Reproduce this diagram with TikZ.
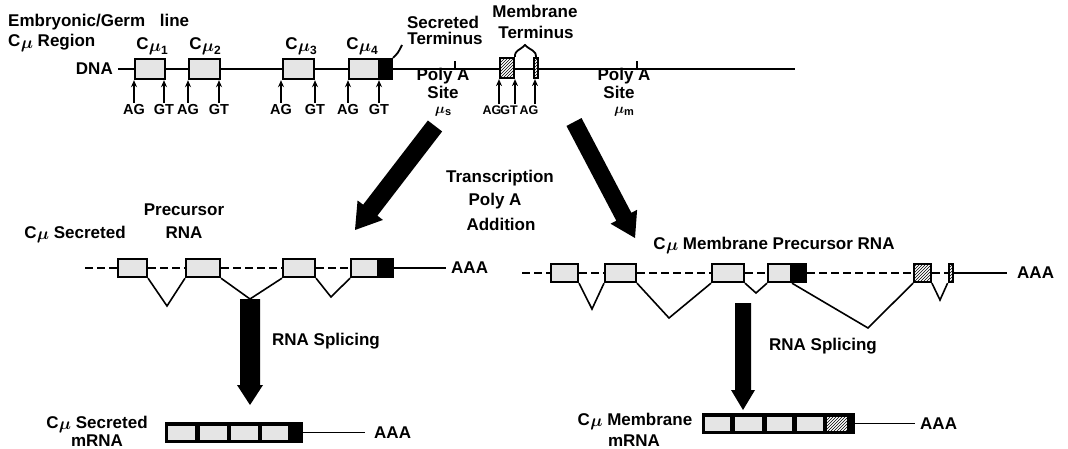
\documentclass[tikz,border=0pt]{standalone}
\usepackage{fontspec}
\setmainfont{Liberation Sans}
\usetikzlibrary{arrows.meta,patterns,calc}
\newcommand\fatarrow[5]{%
  \path ($(#2)!#5!(#1)$) coordinate (fac);
  \fill ($(#1)!#3!90:(#2)$) -- ($(fac)!#3!90:(#2)$) -- ($(fac)!#4!90:(#2)$) -- (#2)
     -- ($(fac)!#4!-90:(#2)$) -- ($(fac)!#3!-90:(#2)$) -- ($(#1)!#3!-90:(#2)$) -- cycle;}
\newcommand\bmu{{\boldmath$\mu$}}
\newcommand\Cmu{C\kern0.3pt\raisebox{-1.5pt}{\bmu}}
\newcommand\Cmusub[1]{C\kern0.3pt\raisebox{-2pt}{\bmu}\raisebox{-5pt}{\fontsize{12}{12}\selectfont #1}}
\newcommand\musub[1]{\bmu\raisebox{-2pt}{\fontsize{11}{11}\selectfont #1}}
\begin{document}
\begin{tikzpicture}[x=1pt,y=-1pt,
  lab/.style={font=\fontsize{17}{19}\selectfont\bfseries, inner sep=0pt, anchor=base},
  sm/.style={font=\fontsize{14.5}{16}\selectfont\bfseries, inner sep=0pt, anchor=base},
  tiny/.style={font=\fontsize{12.5}{14}\selectfont\bfseries, inner sep=0pt, anchor=base},
  mulab/.style={font=\fontsize{15}{16}\selectfont\bfseries, inner sep=0pt, anchor=base},
  exon/.style={draw, line width=2.4pt, fill=black!10, inner sep=0pt, minimum height=#1},
  exon/.default=20pt,
  term/.style={draw, line width=2.4pt, fill=black, inner sep=0pt, minimum height=#1},
  term/.default=20pt,
  memb/.style={draw, line width=2.2pt, fill=white, postaction={pattern=north east lines}, inner sep=0pt, minimum height=#1},
  memb/.default=20pt,
  dna/.style={line width=2pt},
  dashln/.style={line width=2.2pt, dash pattern=on 8pt off 4pt},
  rna/.style={line width=1.8pt},
  splice/.style={line width=1.6pt},
  smarr/.style={line width=1.6pt, -{Stealth[length=7pt,width=6pt]}},
  tick/.style={line width=1.8pt},
  inner/.style={fill=black!10, inner sep=0pt, minimum height=14pt},
  innerh/.style={fill=white, postaction={pattern=north east lines}, inner sep=0pt, minimum height=14pt},
  bar/.style={fill=black, inner sep=0pt, minimum height=21pt}
]
\useasboundingbox[fill=white] (0,0) rectangle (1068,449);

% ---------------- DNA ----------------
\node[lab, anchor=base west] (emb) at (8,27) {Embryonic/Germ\hspace{10pt} line};
\node[lab, anchor=base west] (reg) at (8,47) {\Cmu\ Region};
\node[lab, anchor=east] (dnal) at (113,69) {DNA};
\coordinate (dnaend) at (795,69);
\draw[dna] ([xshift=5pt]dnal.east) -- (dnaend);

\node[exon=20pt, minimum width=29.6pt] (d1) at (150,69) {};
\node[exon=20pt, minimum width=30.6pt] (d2) at (204.5,69) {};
\node[exon=20pt, minimum width=30.6pt] (d3) at (298.5,69) {};
\node[exon=20pt, minimum width=29.6pt] (d4) at (364,69) {};
\node[term=20pt, minimum width=10.6pt] (d4b) at (386.5,69) {};
\node[memb=20pt, minimum width=13.6pt] (m1) at (507,68) {};
\node[memb=20pt, minimum width=4.6pt] (m2) at (536,68) {};

\node[lab] (c1) at (152,50) {\Cmusub{1}};
\node[lab] (c2) at (205,50) {\Cmusub{2}};
\node[lab] (c3) at (301,50) {\Cmusub{3}};
\node[lab] (c4) at (362,50) {\Cmusub{4}};

% splice site labels and arrows
\node[sm] (ag1) at (134,115) {AG};
\node[sm] (gt1) at (164,115) {GT};
\node[sm] (ag2) at (188,115) {AG};
\node[sm] (gt2) at (219,115) {GT};
\node[sm] (ag3) at (281,115) {AG};
\node[sm] (gt3) at (315,115) {GT};
\node[sm] (ag4) at (348,115) {AG};
\node[sm] (gt4) at (379,115) {GT};
\node[tiny] (ag5) at (492,115) {AG};
\node[tiny] (gt5) at (509,115) {GT};
\node[tiny] (ag6) at (529,115) {AG};
\foreach \l/\b in {ag1/d1,gt1/d1,ag2/d2,gt2/d2,ag3/d3,gt3/d3,ag4/d4,gt4/d4b}
  \draw[smarr] ([yshift=2pt]\l.north) -- (\l.north |- \b.south);
\draw[smarr] ([xshift=7pt,yshift=2pt]ag5.north) -- ([xshift=7pt]ag5.north |- m1.south);
\draw[smarr] ([xshift=6pt,yshift=2pt]gt5.north) -- ([xshift=6pt]gt5.north |- m1.south);
\draw[smarr] ([xshift=6pt,yshift=2pt]ag6.north) -- ([xshift=6pt]ag6.north |- m2.south);

% termini
\node[lab] (sec1) at (443,29) {Secreted};
\node[lab] (sec2) at (445,45) {Terminus};
\draw[tick] (d4b.north east) .. controls (398,53) .. (402,45);
\node[lab] (mem1) at (535,18) {Membrane};
\node[lab] (mem2) at (536,39) {Terminus};
\coordinate (brtop) at (525,45);
\draw[tick] (m1.north east) .. controls ([yshift=7pt]m1.north east) and (519,51) .. (brtop)
   .. controls (531,51) and ([yshift=7pt]m2.north) .. (m2.north);

% poly A sites
\coordinate (pas) at (455,69);
\coordinate (pam) at (637,69);
\draw[tick] (pas) -- ++(0,-8);
\draw[tick] (pam) -- ++(0,-8);
\node[lab] (pa1) at (443,81) {Poly A};
\node[lab] (pa2) at (443,99) {Site};
\node[mulab] (pa3) at (443,114) {\musub{s}};
\node[lab] (pb1) at (624,81) {Poly A};
\node[lab] (pb2) at (619,99) {Site};
\node[mulab] (pb3) at (624,114) {\musub{m}};

% transcription arrows
\coordinate (la0) at (435,126);
\coordinate (la1) at (355,230);
\coordinate (ra0) at (574,122);
\coordinate (ra1) at (635,238);
\fatarrow{la0}{la1}{9pt}{16pt}{25pt}
\fatarrow{ra0}{ra1}{8.5pt}{15pt}{24pt}
\node[lab] (tr1) at (500,183) {Transcription};
\node[lab] (tr2) at (495,206) {Poly A};
\node[lab] (tr3) at (501,230) {Addition};

% ---------------- secreted precursor ----------------
\node[lab] (lsec) at (75,238) {\Cmu\ Secreted};
\node[lab] (lpre1) at (184,215) {Precursor};
\node[lab] (lpre2) at (184,238) {RNA};
\coordinate (lp0) at (85,268);
\coordinate (lpe) at (446,268);
\node[exon=18pt, minimum width=28.6pt] (p1) at (132.5,268) {};
\node[exon=18pt, minimum width=33.6pt] (p2) at (203,268) {};
\node[exon=18pt, minimum width=31.6pt] (p3) at (299,268) {};
\node[exon=18pt, minimum width=26.6pt] (p4) at (364.5,268) {};
\node[term=18pt, minimum width=12.6pt] (p4b) at (386.5,268) {};
\draw[dashln] (lp0) -- (p1.west) (p1.east) -- (p2.west) (p2.east) -- (p3.west) (p3.east) -- (p4.west);
\draw[rna] (p4b.east) -- (lpe);
\node[lab, anchor=west] (lAAA) at (451,268) {AAA};
\coordinate (lsj) at (250,299);
\draw[splice] (p1.south east) -- (167,306) -- (p2.south west);
\draw[splice] (p2.south east) -- (lsj) -- (p3.south west);
\draw[splice] (p3.south east) -- (331,297) -- (p4.south west);
\coordinate (lv1) at (250,405);
\fatarrow{lsj}{lv1}{10pt}{13pt}{20pt}
\node[lab] (lspl) at (326,345) {RNA Splicing};

% secreted mRNA
\node[lab] (lm1) at (97,428) {\Cmu\ Secreted};
\node[lab] (lm2) at (97,446) {mRNA};
\node[bar, minimum width=138pt] (lm) at (234,432.5) {};
\node[inner, minimum width=27pt] (lmi1) at (181.5,432.5) {};
\node[inner, minimum width=27pt] (lmi2) at (213.5,432.5) {};
\node[inner, minimum width=27pt] (lmi3) at (244.5,432.5) {};
\node[inner, minimum width=26pt] (lmi4) at (275,432.5) {};
\coordinate (lmend) at (365,432.5);
\draw[rna] (lm.east) -- (lmend);
\node[lab, anchor=west] (lmAAA) at (374,432.5) {AAA};

% ---------------- membrane precursor ----------------
\node[lab] (rtitle) at (774,249) {\Cmu\ Membrane Precursor RNA};
\coordinate (rp0) at (522,273);
\coordinate (rpe) at (1007,273);
\node[exon=18pt, minimum width=26.6pt] (r1) at (564.5,273) {};
\node[exon=18pt, minimum width=30.6pt] (r2) at (620.5,273) {};
\node[exon=18pt, minimum width=31.6pt] (r3) at (728,273) {};
\node[exon=18pt, minimum width=22.6pt] (r4) at (779.5,273) {};
\node[term=18pt, minimum width=12.6pt] (r4b) at (799.5,273) {};
\node[memb=18pt, minimum width=16.6pt] (rh) at (922.5,273) {};
\node[memb=18pt, minimum width=4.6pt] (rs) at (951,273) {};
\draw[dashln] (rp0) -- (r1.west) (r1.east) -- (r2.west) (r2.east) -- (r3.west) (r3.east) -- (r4.west)
   (r4b.east) -- (rh.west) (rh.east) -- (rs.west);
\draw[rna] (rs.east) -- (rpe);
\node[lab, anchor=west] (rAAA) at (1017,273) {AAA};
\draw[splice] (r1.south east) -- (592,309) -- (r2.south west);
\draw[splice] (r2.south east) -- (669,318) -- (r3.south west);
\draw[splice] (r3.south east) -- (756,293) -- (r4.south west);
\draw[splice] (r4b.south west) -- (868,328) -- (rh.south west);
\draw[splice] (rh.south east) -- (940,300) -- (rs.south west);
\coordinate (rv0) at (743,303);
\coordinate (rv1) at (743,410);
\fatarrow{rv0}{rv1}{8pt}{12pt}{20pt}
\node[lab] (rspl) at (823,350) {RNA Splicing};

% membrane mRNA
\node[lab] (rm1) at (635,425) {\Cmu\ Membrane};
\node[lab] (rm2) at (634,446) {mRNA};
\node[bar, minimum width=153pt] (rm) at (778.5,423.5) {};
\node[inner, minimum width=25pt] (rmi1) at (717.5,423.5) {};
\node[inner, minimum width=27pt] (rmi2) at (748.5,423.5) {};
\node[inner, minimum width=25pt] (rmi3) at (779.5,423.5) {};
\node[inner, minimum width=26pt] (rmi4) at (810,423.5) {};
\node[innerh, minimum width=20pt] (rmi5) at (837,423.5) {};
\coordinate (rmend) at (915,423.5);
\draw[rna] (rm.east) -- (rmend);
\node[lab, anchor=west] (rmAAA) at (920,423.5) {AAA};
\end{tikzpicture}
\end{document}
